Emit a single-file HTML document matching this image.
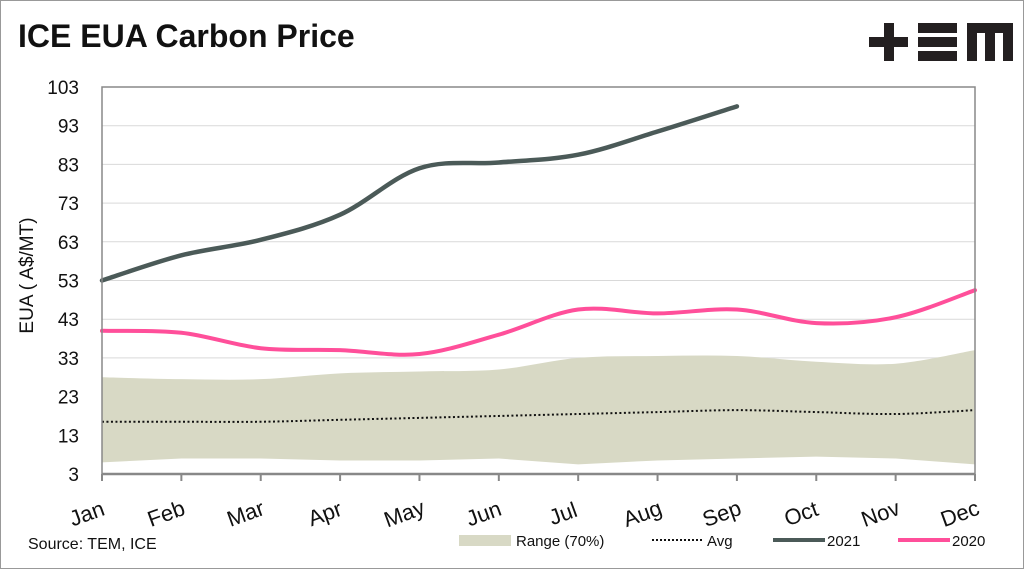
<!DOCTYPE html>
<html><head><meta charset="utf-8"><style>
body{margin:0;width:1024px;height:569px;overflow:hidden;background:#fff;font-family:"Liberation Sans",sans-serif}
#wrap{position:absolute;left:0;top:0;width:1022px;height:567px;border:1px solid #999}
</style></head><body>
<div id="wrap"></div>
<svg id="chart" width="1024" height="569" style="position:absolute;left:0;top:0">
<text x="18" y="47" font-size="32" font-weight="bold" fill="#111">ICE EUA Carbon Price</text>
<g fill="#231f20">
<rect x="869" y="37" width="39" height="10"/><rect x="884" y="23" width="10" height="38"/>
<rect x="918" y="23" width="39" height="10"/><rect x="918" y="37" width="39" height="10"/><rect x="918" y="51" width="39" height="10"/>
<path d="M967 23H1013V61H1003V33H995V61H985V33H977V61H967Z"/>
</g>
<g id="grid"></g><g id="marks"></g><g id="axes"></g>
<text x="28" y="549" font-size="16" fill="#111">Source: TEM, ICE</text>
<g font-size="15" fill="#111">
<g><rect x="459" y="535" width="52" height="11" fill="#d8d9c5"/><text x="516" y="546">Range (70%)</text></g>
<g><line x1="652" y1="540" x2="702" y2="540" stroke="#111" stroke-width="2" stroke-dasharray="2,2"/><text x="707" y="546">Avg</text></g>
<g><line x1="773" y1="540" x2="825" y2="540" stroke="#4b5a58" stroke-width="4"/><text x="827" y="546">2021</text></g>
<g><line x1="898" y1="540" x2="950" y2="540" stroke="#ff4f9a" stroke-width="4"/><text x="952" y="546">2020</text></g>
</g>
</svg>
<script>
const months=["Jan","Feb","Mar","Apr","May","Jun","Jul","Aug","Sep","Oct","Nov","Dec"];
const yTicks=[3,13,23,33,43,53,63,73,83,93,103];
const s2021=[53,59.5,63.5,70,82,83.5,85.5,91.5,98];
const s2020=[40,39.5,35.5,35,34,39,45.5,44.5,45.5,42,43.5,50.5];
const rangeHigh=[28,27.5,27.5,29,29.5,30,33,33.5,33.5,32,31.5,35];
const rangeLow=[6,7,7,6.5,6.5,7,5.5,6.5,7,7.5,7,5.5];
const avg=[16.5,16.5,16.5,17,17.5,18,18.5,19,19.5,19,18.5,19.5];
const L=102,R=975,T=87,B=474,ymin=3,ymax=103;
const xs=i=>L+i*(R-L)/(months.length-1);
const ys=v=>B-(v-ymin)/(ymax-ymin)*(B-T);
const NS="http://www.w3.org/2000/svg";
function mk(t,a,p){const e=document.createElementNS(NS,t);for(const k in a)e.setAttribute(k,a[k]);p.appendChild(e);return e;}
function curve(vals,move){const p=vals.map((v,i)=>[xs(i),ys(v)]);let d=(move?"M":"L")+p[0][0]+","+p[0][1];
for(let i=0;i<p.length-1;i++){const p0=p[i-1]||p[i],p1=p[i],p2=p[i+1],p3=p[i+2]||p2;
d+=" C"+(p1[0]+(p2[0]-p0[0])/6)+","+(p1[1]+(p2[1]-p0[1])/6)+" "+(p2[0]-(p3[0]-p1[0])/6)+","+(p2[1]-(p3[1]-p1[1])/6)+" "+p2[0]+","+p2[1];}return d;}
const g=document.getElementById('grid'),m=document.getElementById('marks'),ax=document.getElementById('axes');
yTicks.forEach(v=>{const l=mk('line',{x1:L,x2:R,y1:ys(v),y2:ys(v),stroke:'#d9d9d9','stroke-width':1},g);


const t=mk('text',{x:L-23,y:ys(v)+7,'font-size':19,'text-anchor':'end',fill:'#111'},ax);t.textContent=v;

});
let low=rangeLow.map((v,i)=>[xs(i),ys(v)]).reverse();
const band=mk('path',{d:curve(rangeHigh,true)+" L"+low.map(p=>p.join(",")).join(" L")+" Z",fill:'#d8d9c5'},m);


const a=mk('path',{d:curve(avg,true),fill:'none',stroke:'#111','stroke-width':2,'stroke-dasharray':'2,2.5'},m);


const l20=mk('path',{d:curve(s2020,true),fill:'none',stroke:'#ff4f9a','stroke-width':4,'stroke-linecap':'round'},m);


const l21=mk('path',{d:curve(s2021,true),fill:'none',stroke:'#4b5a58','stroke-width':4.5,'stroke-linecap':'round'},m);


const fr=mk('rect',{x:L,y:T,width:R-L,height:B-T,fill:'none',stroke:'#888','stroke-width':1.5},ax);


mk('line',{x1:L,x2:R,y1:B,y2:B,stroke:'#888','stroke-width':2.5},ax);
months.forEach((mo,i)=>{mk('line',{x1:xs(i),x2:xs(i),y1:B,y2:B+7,stroke:'#888','stroke-width':2},ax);
const cx=xs(i)-15,cy=B+47;
const t=mk('text',{x:cx,y:cy,'font-size':22,'text-anchor':'middle',fill:'#111',transform:`rotate(-20 ${cx} ${cy-7})`},ax);t.textContent=mo;

});
const yt=mk('text',{x:0,y:0,'font-size':19,'text-anchor':'middle',fill:'#111',transform:`translate(33 ${(T+B)/2-5}) rotate(-90)`},ax);yt.textContent="EUA ( A$/MT)";


</script>
</body></html>
